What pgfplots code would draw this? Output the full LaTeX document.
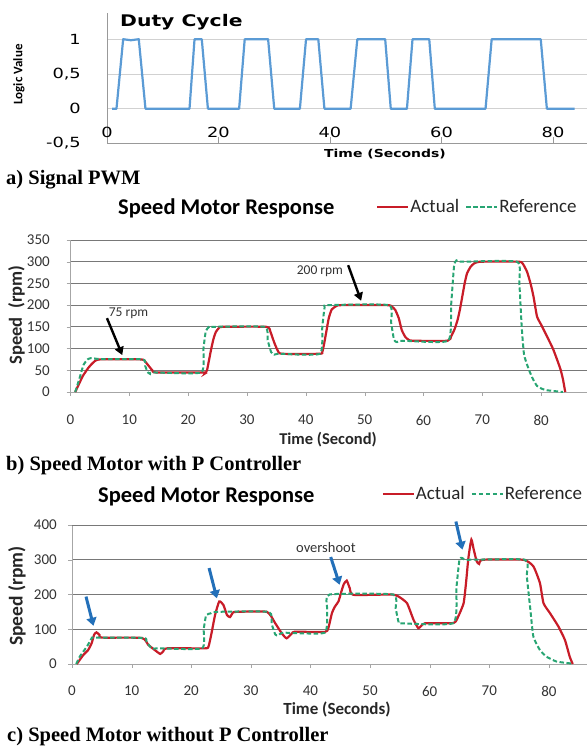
\documentclass[border=0pt]{standalone}
\usepackage{pgfplots}
\pgfplotsset{compat=1.18}
\usepackage{fontspec}
\setmainfont{Liberation Serif}
\newfontfamily\pwmfont[FakeStretch=1.27]{DejaVu Sans}
\newfontfamily\calfont{Carlito}
\usetikzlibrary{arrows.meta}

\definecolor{pwmblue}{RGB}{91,155,213}
\definecolor{actred}{RGB}{200,28,40}
\definecolor{refgreen}{RGB}{40,165,115}
\definecolor{annblue}{RGB}{35,112,185}
\definecolor{gridgray}{RGB}{120,120,120}
\newcommand{\fs}[1]{\fontsize{#1pt}{#1pt}\selectfont}

\tikzset{
  blue arrow/.style={-{Triangle[length=8pt,width=10pt]}, line width=3pt, annblue},
  black arrow/.style={-{Triangle[length=8pt,width=9pt]}, line width=2.4pt, black},
}

\pgfplotsset{
  speedaxis/.style={
    scale only axis, anchor=south west, clip=false,
    axis x line*=bottom, axis y line*=left,
    axis line style={-, draw=black!35},
    xmin=0, xtick={0,10,...,80},
    tick align=outside, major tick length=4pt,
    tick style={black!35},
    ymajorgrids, major grid style={gridgray, line width=0.9pt},
    extra y tick style={grid style={black!25, line width=0.8pt}},
    /pgf/number format/assume math mode=true,
    tick label style={font=\calfont\fs{15}, text=black!80},
    yticklabel style={anchor=east, inner sep=0pt},
    xticklabel style={anchor=center},
    legend style={draw=none, fill=none, inner sep=0pt, anchor=west,
      legend columns=2, font=\calfont\fs{19}, text=black!85,
      nodes={inner sep=1pt},
      /tikz/every even column/.append style={column sep=5pt}},
    legend image code/.code={\draw[##1] (0pt,0pt) -- (31pt,0pt);},
  },
  actual/.style={actred, line width=2.2pt, smooth, tension=0.3},
  reference/.style={refgreen, line width=2pt, dash pattern=on 4.5pt off 2.5pt, smooth, tension=0.3},
}

\begin{document}
\begin{tikzpicture}[x=1pt, y=1pt]
\useasboundingbox (0,0) rectangle (587,746);

% ---------- a) PWM ----------
\begin{axis}[
  at={(107pt,602.5pt)}, anchor=south west, scale only axis,
  width=480pt, height=130.5pt,
  xmin=0, xmax=86.1, ymin=-0.5, ymax=1.377, clip=false,
  axis x line*=bottom, axis y line*=left, axis line style={-, draw=black!40},
  xtick={0,20,...,80}, ytick={-0.5,0,0.5,1}, yticklabels={{-0,5},0,{0,5},1},
  ymajorgrids, major grid style={black!18, line width=0.8pt},
  tick align=inside, major tick length=6pt,
  xtick style={draw=black!40}, ytick style={draw=none},
  /pgf/number format/assume math mode=true,
  tick label style={font=\pwmfont\fs{14}},
  xticklabel style={anchor=center, yshift=11.5pt},
  yticklabel style={anchor=east, inner sep=0pt, xshift=-26pt},
]
\addplot[pwmblue, line width=2.2pt, line join=round] coordinates {
  (0.9,0) (1.7,0) (2.9,1) (4.3,0.985) (5.7,1) (6.9,0) (14.8,0) (15.7,1) (17,1) (18.1,0)
  (23.7,0) (24.7,1) (28.9,1) (30,0) (34.6,0) (35.7,1) (37.9,1) (39,0)
  (43.7,0) (44.9,1) (49.9,1) (50.9,0) (53.8,0) (54.8,1) (57.8,1) (58.8,0)
  (67.9,0) (69,1) (77.8,1) (78.9,0) (83.9,0)
};
\end{axis}
\node[anchor=base west, inner sep=0pt, font=\pwmfont\bfseries\fs{16}] at (120,719.3) {Duty Cycle};
\node[rotate=90, inner sep=0pt, font=\calfont\bfseries\fs{13}] at (19,671.5) {Logic Value};
\node[anchor=base, inner sep=0pt, font=\pwmfont\bfseries\fs{11}] at (385,588.7) {Time (Seconds)};
\node[anchor=base west, inner sep=0pt, font=\bfseries\fs{20.5}] at (6,561) {a) Signal PWM};

% ---------- b) with P controller ----------
\begin{axis}[speedaxis,
  at={(70.5pt,354pt)}, width=516.5pt, height=152pt,
  xmax=87.8, ymin=0, ymax=350,
  ytick={0,50,...,300}, extra y ticks={350},
  yticklabel style={xshift=-16.5pt}, xticklabel style={yshift=-24pt},
  legend style={at={(0.5915,1.217)}},
]
\addplot[actual] coordinates {
  (0.8,0) (1.5,20) (2.1,37) (3,55) (3.8,67) (4.9,75) (12,75) (12.7,70) (13.3,60)
  (13.9,50) (14.5,45) (22.6,45) (22.9,43) (23.2,50) (23.5,70) (23.9,98) (24.3,122)
  (24.7,138) (25.2,147) (25.8,150) (33.3,150) (34,138) (34.6,115) (35.2,96) (35.9,88)
  (42.4,88) (42.8,92) (43.1,110) (43.5,140) (43.9,170) (44.4,190) (45.2,198) (46,200)
  (53.8,200) (54.6,197) (55.2,189) (55.8,170) (56.3,143) (56.9,127) (57.5,120) (58.2,118)
  (64.1,118) (64.7,128) (65.3,145) (65.8,166) (66.2,190) (66.6,220) (67,250) (67.4,273)
  (68,288) (68.6,296) (69.7,300) (76.2,300) (76.9,295) (77.6,277) (78.2,250) (78.7,220)
  (79.3,174) (80,155) (81,128) (82,100) (82.7,75) (83.3,52) (83.7,30) (84.1,0)
};
\addlegendentry{Actual}
\addplot[reference] coordinates {
  (0.8,0) (1.5,30) (2.2,62) (2.9,75) (3.5,78) (5,76) (12.3,75) (12.7,60) (13.1,46)
  (13.5,42) (14,45) (22.2,45) (22.6,100) (23,140) (23.5,149) (24,150) (33,150)
  (33.5,120) (34.1,92) (34.6,86) (35.5,88) (42.4,88) (42.8,150) (43.2,195) (43.7,200)
  (54.1,200) (54.5,160) (55,120) (55.5,115) (56.5,118) (64.2,118) (64.7,200) (65.2,290)
  (65.6,303) (66.5,300) (75.9,300) (76.3,250) (76.7,150) (77.1,86) (77.9,52) (78.6,30)
  (79.3,14) (80.2,7) (81,4) (83,1) (83.7,0)
};
\addlegendentry{Reference}
\draw[black arrow] (axis cs:6.2,170) -- (axis cs:8.8,85);
\draw[black arrow] (axis cs:47.2,292) -- (axis cs:49.4,210);
\node[font=\calfont\fs{13.5}, text=black!80] at (axis cs:9.86,182) {75 rpm};
\node[font=\calfont\fs{13.5}, text=black!80] at (axis cs:42.4,279) {200 rpm};
\end{axis}
\node[anchor=base west, inner sep=0pt, font=\calfont\bfseries\fs{22.5}] at (118,531) {Speed Motor Response};
\node[rotate=90, inner sep=0pt, font=\calfont\bfseries\fs{18.5}, text=black!85] at (16.5,431) {Speed\ \ (rpm)};
\node[anchor=base, inner sep=0pt, font=\calfont\bfseries\fs{16.5}, text=black!85] at (328,301) {Time (Second)};
\node[anchor=base west, inner sep=0pt, font=\bfseries\fs{20.5}] at (6,275) {b) Speed Motor with P Controller};

% ---------- c) without P controller ----------
\begin{axis}[speedaxis,
  at={(72pt,82pt)}, width=515pt, height=139pt,
  xmax=86.4, ymin=0, ymax=400,
  ytick={0,100,200,300}, extra y ticks={400},
  yticklabel style={xshift=-11pt}, xticklabel style={yshift=-23pt},
  legend style={at={(0.601,1.225)}},
]
\addplot[actual] coordinates {
  (0.8,0) (1.9,26) (2.7,40) (3.3,60) (3.7,84) (4.1,91) (4.6,84) (5,76) (11.7,75)
  (12.8,55) (13.9,40) (14.8,29) (15.3,36) (15.9,45) (22.3,45) (22.9,50) (23.4,88)
  (24,141) (24.7,180) (25.4,170) (26,141) (26.5,135) (27,148) (27.6,150) (32.7,150)
  (34.1,117) (35.2,88) (36,74) (36.9,88) (37.4,93) (42.4,92) (43,103) (43.6,146)
  (44.1,165) (44.7,180) (45.2,209) (45.6,230) (46.1,240) (46.6,218) (47.2,199) (53.6,200)
  (54.8,194) (56.2,175) (57.3,127) (58.1,103) (58.6,110) (59.2,117) (64,118) (64.8,137)
  (65.7,175) (66.1,233) (66.5,305) (67,358) (67.4,329) (67.9,295) (68.3,288) (68.9,300)
  (75.7,300) (77.4,281) (78.5,233) (79.1,175) (80.2,146) (81.6,108) (82.7,69) (83.5,21) (84,0)
};
\addlegendentry{Actual}
\addplot[reference] coordinates {
  (0.7,0) (1.3,21) (1.9,36) (2.5,50) (3.3,74) (3.8,76) (12,75) (12.5,65) (13,52)
  (13.5,44) (14.5,45) (21.8,45) (22.1,100) (22.5,140) (23.3,146) (24.2,150) (33,150)
  (33.5,115) (34.1,85) (34.6,82) (35.5,90) (42.4,90) (42.8,160) (43.2,200) (53.9,200)
  (54.3,160) (54.8,120) (55.3,117) (64,118) (64.5,220) (65,300) (65.5,305) (66.3,300)
  (76,300) (76.3,252) (76.9,156) (77.4,79) (78.5,40) (79.6,21) (81.3,7) (83.5,2) (84,0)
};
\addlegendentry{Reference}
\draw[blue arrow] (axis cs:2.35,194) -- (axis cs:3.6,110);
\draw[blue arrow] (axis cs:23,276) -- (axis cs:24.3,189);
\draw[blue arrow] (axis cs:43.4,308) -- (axis cs:44.9,228);
\draw[blue arrow] (axis cs:64.4,410) -- (axis cs:65.5,329);
\node[font=\calfont\fs{14.5}, text=black!80] at (axis cs:42.6,335) {overshoot};
\end{axis}
\node[anchor=base west, inner sep=0pt, font=\calfont\bfseries\fs{22.5}] at (98,243.3) {Speed Motor Response};
\node[rotate=90, inner sep=0pt, font=\calfont\bfseries\fs{19.5}, text=black!85] at (17,150) {Speed (rpm)};
\node[anchor=base, inner sep=0pt, font=\calfont\bfseries\fs{17}, text=black!85] at (337,31) {Time (Seconds)};
\node[anchor=base west, inner sep=0pt, font=\bfseries\fs{20.5}] at (7,5) {c) Speed Motor without P Controller};
\end{tikzpicture}
\end{document}
